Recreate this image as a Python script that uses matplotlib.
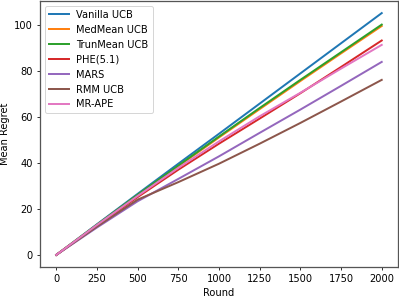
import numpy as np
import matplotlib
matplotlib.use('Agg')
import matplotlib.pyplot as plt

rounds = [0, 250, 500, 750, 1000, 1250, 1500, 1750, 2000]

vanilla_ucb = [0, 13.3, 26.5, 39.6, 52.6, 65.7, 78.8, 91.9, 105.0]
medmean_ucb = [0, 13.0, 25.9, 38.5, 51.0, 63.3, 75.5, 87.5, 99.4]
trunmean_ucb = [0, 13.1, 26.1, 38.8, 51.4, 63.8, 76.0, 88.0, 100.0]
phe = [0, 12.7, 25.1, 37.0, 48.3, 59.2, 70.2, 81.6, 93.1]
mars = [0, 11.9, 23.3, 33.0, 42.8, 53.0, 63.1, 73.4, 83.8]
rmm_ucb = [0, 12.3, 24.0, 31.6, 39.6, 48.3, 57.3, 66.6, 76.0]
mr_ape = [0, 13.0, 25.6, 37.8, 49.3, 60.2, 70.4, 80.9, 91.2]

series = [
    ('Vanilla UCB', vanilla_ucb),
    ('MedMean UCB', medmean_ucb),
    ('TrunMean UCB', trunmean_ucb),
    ('PHE(5.1)', phe),
    ('MARS', mars),
    ('RMM UCB', rmm_ucb),
    ('MR-APE', mr_ape),
]

# the original was drawn larger and shrunk, so draw at a low dpi
dpi = 71
fig = plt.figure(figsize=(399 / dpi, 298 / dpi), dpi=dpi)
ax = fig.add_axes([40 / 399, 31 / 298, 358 / 399, 266 / 298])

for name, vals in series:
    ax.plot(rounds, vals, label=name, linewidth=2.0)

for sp in ax.spines.values():
    sp.set_linewidth(1.3)
    sp.set_color('#555555')

ax.set_xlabel('Round')
ax.set_ylabel('Mean Regret')
ax.set_xticks([0, 250, 500, 750, 1000, 1250, 1500, 1750, 2000])
ax.set_yticks([0, 20, 40, 60, 80, 100])
ax.legend(loc='upper left')

fig.savefig('out.png', dpi=dpi)
